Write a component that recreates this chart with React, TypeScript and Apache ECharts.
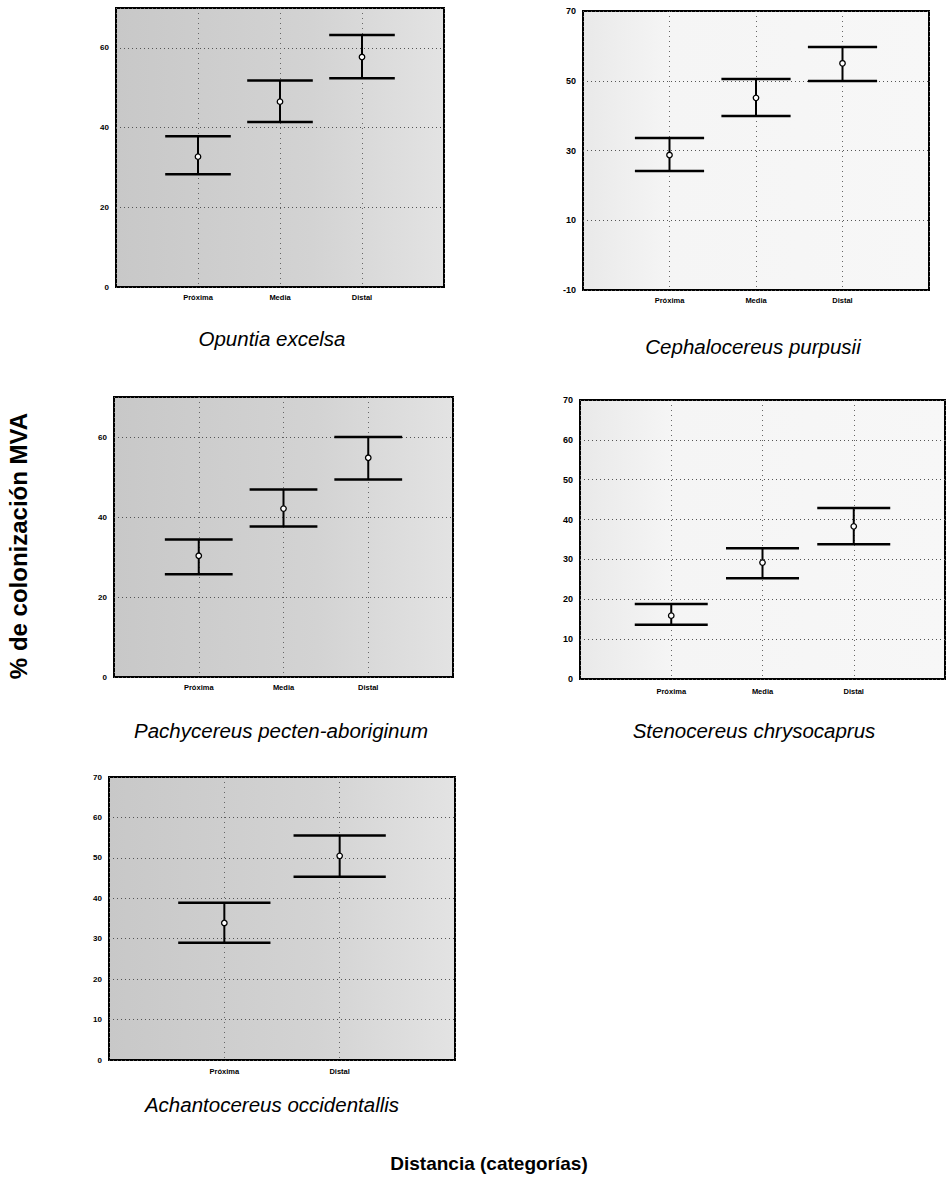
import React, { useEffect, useRef } from "react";
import * as echarts from "echarts";

// Categories
const catsThree = ["Próxima", "Media", "Distal"];
const catsTwo = ["Próxima", "Distal"];

// Panel titles
const speciesNames = [
  "Opuntia excelsa",
  "Cephalocereus purpusii",
  "Pachycereus pecten-aboriginum",
  "Stenocereus chrysocaprus",
  "Achantocereus occidentallis",
];

// Opuntia excelsa
const opuntiaMean = [32.7, 46.5, 57.7];
const opuntiaLow = [28.3, 41.4, 52.4];
const opuntiaHigh = [37.8, 51.8, 63.2];

// Cephalocereus purpusii
const cephaloMean = [28.7, 45.1, 55.0];
const cephaloLow = [24.1, 39.9, 49.9];
const cephaloHigh = [33.6, 50.5, 59.7];

// Pachycereus pecten-aboriginum
const pachyMean = [30.3, 42.1, 54.8];
const pachyLow = [25.7, 37.6, 49.4];
const pachyHigh = [34.4, 46.9, 60.0];

// Stenocereus chrysocaprus
const stenoMean = [15.9, 29.2, 38.3];
const stenoLow = [13.6, 25.3, 33.8];
const stenoHigh = [18.8, 32.8, 42.9];

// Achantocereus occidentallis
const achantoMean = [33.9, 50.5];
const achantoLow = [29.0, 45.3];
const achantoHigh = [38.9, 55.5];

// Y axis settings per panel
const yMins = [0, -10, 0, 0, 0];
const yMaxs = [70, 70, 70, 70, 70];
const yIntervals = [20, 20, 20, 10, 10];

const yTitle = "% de colonización MVA";
const xTitle = "Distancia (categorías)";

const panels = [
  { cats: catsThree, mean: opuntiaMean, low: opuntiaLow, high: opuntiaHigh },
  { cats: catsThree, mean: cephaloMean, low: cephaloLow, high: cephaloHigh },
  { cats: catsThree, mean: pachyMean, low: pachyLow, high: pachyHigh },
  { cats: catsThree, mean: stenoMean, low: stenoLow, high: stenoHigh },
  { cats: catsTwo, mean: achantoMean, low: achantoLow, high: achantoHigh },
];

// Layout (styles/positions)
const gridBoxes = [
  { left: 116, top: 8, width: 328, height: 279 },
  { left: 583, top: 11, width: 346, height: 279 },
  { left: 114, top: 397, width: 339, height: 280 },
  { left: 580, top: 400, width: 372, height: 279 },
  { left: 109, top: 777, width: 346, height: 283 },
];
const titlePos = [
  { x: 272, y: 338 },
  { x: 753, y: 346 },
  { x: 281, y: 730 },
  { x: 754, y: 730 },
  { x: 272, y: 1104 },
];
const dense = [true, false, true, false, true];
const xLabelMargin = [6, 6, 6, 8, 7];
const yLabelSize = [8, 9, 8, 9, 8];

const FONT = "'Liberation Sans', Arial, sans-serif";

function bg(isDense: boolean) {
  return new echarts.graphic.LinearGradient(0, 0, 1, 0, isDense
    ? [
        { offset: 0, color: "#c8c8c8" },
        { offset: 0.6, color: "#d3d3d3" },
        { offset: 1, color: "#e3e3e3" },
      ]
    : [
        { offset: 0, color: "#e9e9e9" },
        { offset: 0.25, color: "#f5f5f5" },
        { offset: 1, color: "#f7f7f7" },
      ]);
}

export default function App() {
  const ref = useRef<HTMLDivElement>(null);
  useEffect(() => {
    document.body.style.margin = "0";
    const chart = echarts.init(ref.current!, null, { renderer: "svg" });
    const grid: any[] = [];
    const xAxis: any[] = [];
    const yAxis: any[] = [];
    const series: any[] = [];
    panels.forEach((p, i) => {
      const n = p.cats.length;
      grid.push({
        ...gridBoxes[i],
        show: true,
        backgroundColor: bg(dense[i]),
        borderColor: "#000",
        borderWidth: 2,
        containLabel: false,
      });
      xAxis.push({
        type: "value",
        gridIndex: i,
        min: 0,
        max: n + 1,
        interval: 1,
        axisLine: { show: false },
        axisTick: { show: false },
        axisLabel: {
          margin: xLabelMargin[i],
          fontSize: 7.5,
          fontWeight: "bold",
          fontFamily: FONT,
          color: "#000",
          formatter: (v: number) => (v >= 1 && v <= n ? p.cats[v - 1] : ""),
        },
        splitLine: {
          show: true,
          lineStyle: { color: "#666", type: [1, 4], width: 1 },
        },
      });
      yAxis.push({
        type: "value",
        gridIndex: i,
        min: yMins[i],
        max: yMaxs[i],
        interval: yIntervals[i],
        axisLine: { show: false },
        axisTick: { show: false },
        axisLabel: {
          margin: 7,
          fontSize: yLabelSize[i],
          fontWeight: "bold",
          fontFamily: FONT,
          color: "#000",
          showMaxLabel: i === 1 || i === 3 || i === 4,
        },
        splitLine: {
          show: true,
          lineStyle: { color: "#555", type: [1, 3], width: 1 },
        },
      });
      const errData = p.cats.map((_, k) => [k + 1, p.low[k], p.high[k], p.mean[k]]);
      series.push({
        type: "custom",
        xAxisIndex: i,
        yAxisIndex: i,
        data: errData,
        renderItem: (params: any, api: any) => {
          const x = api.value(0);
          const lo = api.value(1);
          const hi = api.value(2);
          const a = api.coord([x - 0.4, hi]);
          const b = api.coord([x + 0.4, hi]);
          const c = api.coord([x - 0.4, lo]);
          const d = api.coord([x + 0.4, lo]);
          const t = api.coord([x, hi]);
          const u = api.coord([x, lo]);
          const st = { stroke: "#000", lineWidth: 2.5 };
          return {
            type: "group",
            children: [
              { type: "line", shape: { x1: a[0], y1: a[1], x2: b[0], y2: b[1] }, style: st },
              { type: "line", shape: { x1: c[0], y1: c[1], x2: d[0], y2: d[1] }, style: st },
              { type: "line", shape: { x1: t[0], y1: t[1], x2: u[0], y2: u[1] }, style: { stroke: "#000", lineWidth: 2 } },
            ],
          };
        },
        z: 3,
      });
      series.push({
        type: "scatter",
        xAxisIndex: i,
        yAxisIndex: i,
        data: p.cats.map((_, k) => [k + 1, p.mean[k]]),
        symbol: "circle",
        symbolSize: 5.5,
        itemStyle: { color: "#fff", borderColor: "#000", borderWidth: 1.3, opacity: 1 },
        z: 4,
      });
    });

    const graphic: any[] = speciesNames.map((name, i) => ({
      type: "text",
      x: titlePos[i].x,
      y: titlePos[i].y,
      style: {
        text: name,
        font: `italic 20.5px ${FONT}`,
        fill: "#000",
        align: "center",
        verticalAlign: "middle",
      },
    }));
    graphic.push({
      type: "text",
      x: 18,
      y: 546,
      rotation: Math.PI / 2,
      style: {
        text: yTitle,
        font: `bold 24px ${FONT}`,
        fill: "#000",
        align: "center",
        verticalAlign: "middle",
      },
    });
    graphic.push({
      type: "text",
      x: 489,
      y: 1163,
      style: {
        text: xTitle,
        font: `bold 19px ${FONT}`,
        fill: "#000",
        align: "center",
        verticalAlign: "middle",
      },
    });

    chart.setOption({
      animation: false,
      backgroundColor: "#fff",
      grid,
      xAxis,
      yAxis,
      series,
      graphic,
    });
    return () => chart.dispose();
  }, []);
  return (
    <div
      ref={ref}
      style={{ position: "absolute", left: 0, top: 0, width: 948, height: 1196 }}
    />
  );
}
